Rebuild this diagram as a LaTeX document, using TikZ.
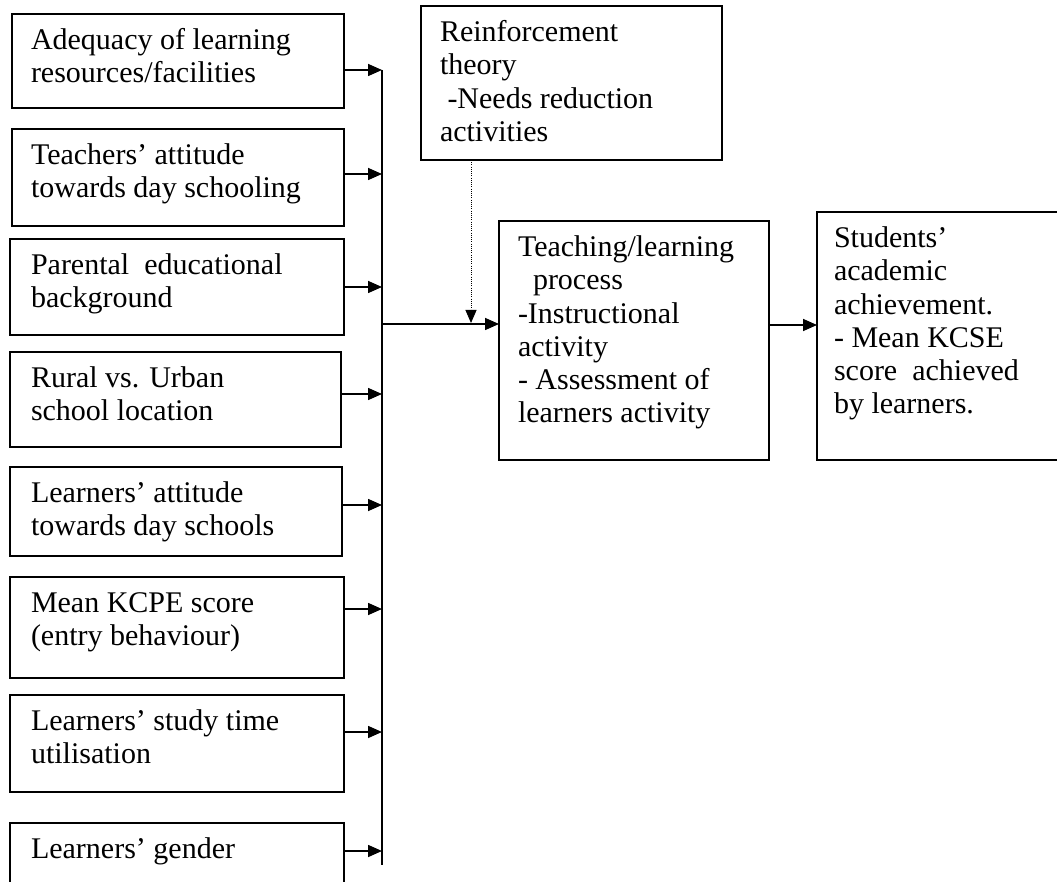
\documentclass[tikz,border=0pt]{standalone}
\usepackage{fontspec}
\setmainfont{Liberation Serif}
\usetikzlibrary{arrows.meta,calc}
\newcommand\tb[1]{\parbox[t]{330pt}{\raggedright #1}}
\begin{document}
\begin{tikzpicture}[x=1pt,y=-1pt,
  box/.style={draw, line width=1.6pt, anchor=north west, inner sep=0pt, outer sep=0pt},
  txt/.style={anchor=base west, inner sep=0pt, outer sep=0pt, font=\fontsize{30pt}{33.2pt}\selectfont},
  arr/.style={line width=1.6pt, -{Triangle[length=14pt,width=12pt]}},
  dotarr/.style={line width=1pt, dash pattern=on 1pt off 1.2pt, -{Triangle[length=13pt,width=11pt]}}]
\useasboundingbox (0,0) rectangle (1057,882);

% left column boxes
\node[box, minimum width=332pt, minimum height=94pt]  (b1) at (12,14) {};
\node[box, minimum width=332pt, minimum height=97pt]  (b2) at (12,129) {};
\node[box, minimum width=334pt, minimum height=96pt]  (b3) at (10,239) {};
\node[box, minimum width=331pt, minimum height=95pt]  (b4) at (10,352) {};
\node[box, minimum width=332pt, minimum height=89pt]  (b5) at (10,467) {};
\node[box, minimum width=334pt, minimum height=101pt] (b6) at (10,577) {};
\node[box, minimum width=334pt, minimum height=97pt]  (b7) at (10,695) {};
\node[box, minimum width=334pt, minimum height=100pt] (b8) at (10,823) {};

\node[txt] (t1) at (31,49.7)  {\tb{Adequacy of learning\\resources/facilities}};
\node[txt] (t2) at (31,164.7) {\tb{Teachers’ attitude\\towards day schooling}};
\node[txt] (t3) at (31,274.7) {\tb{Parental\ \ educational\\background}};
\node[txt] (t4) at (31,387.7) {\tb{Rural vs. Urban\\school location}};
\node[txt] (t5) at (31,502.7) {\tb{Learners’ attitude\\towards day schools}};
\node[txt] (t6) at (31,612.7) {\tb{Mean KCPE score\\(entry behaviour)}};
\node[txt] (t7) at (31,730.7) {\tb{Learners’ study time\\utilisation}};
\node[txt] (t8) at (31,858.7) {\tb{Learners’ gender}};

% middle and right boxes
\node[box, minimum width=301pt, minimum height=154pt] (r)  at (421,6) {};
\node[box, minimum width=270pt, minimum height=239pt] (tl) at (499,221) {};
\node[box, minimum width=260pt, minimum height=248pt] (st) at (817,212) {};

\node[txt] (rt)  at (440,41.7)  {\tb{Reinforcement\\theory\\\hspace*{7.5pt}-Needs reduction\\activities}};
\node[txt] (tlt) at (518,256.7) {\tb{Teaching/learning\\\hspace*{15pt}process\\-Instructional\\activity\\- Assessment of\\learners activity}};
\node[txt] (stt) at (834,247.7) {\tb{Students’\\academic\\achievement.\\- Mean KCSE\\score\ \ achieved\\by learners.}};

% collector line
\coordinate (vtop) at (382,70);
\coordinate (vbot) at (382,865);
\coordinate (v1) at (382,70);
\coordinate (v2) at (382,174);
\coordinate (v3) at (382,287);
\coordinate (v4) at (382,394);
\coordinate (v5) at (382,505);
\coordinate (v6) at (382,609);
\coordinate (v7) at (382,732);
\coordinate (v8) at (382,851);
\coordinate (vm) at (382,324);
\coordinate (dm) at (471,323);

\draw[line width=1.6pt] (vtop) -- (vbot);
\foreach \i in {1,...,8} \draw[arr] (b\i.east |- v\i) -- (v\i);
\draw[arr] (vm) -- (tl.west |- vm);
\draw[dotarr] (r.south -| dm) -- (dm);
\draw[arr] (tl.east |- 0,325) -- (st.west |- 0,325);
\end{tikzpicture}
\end{document}
